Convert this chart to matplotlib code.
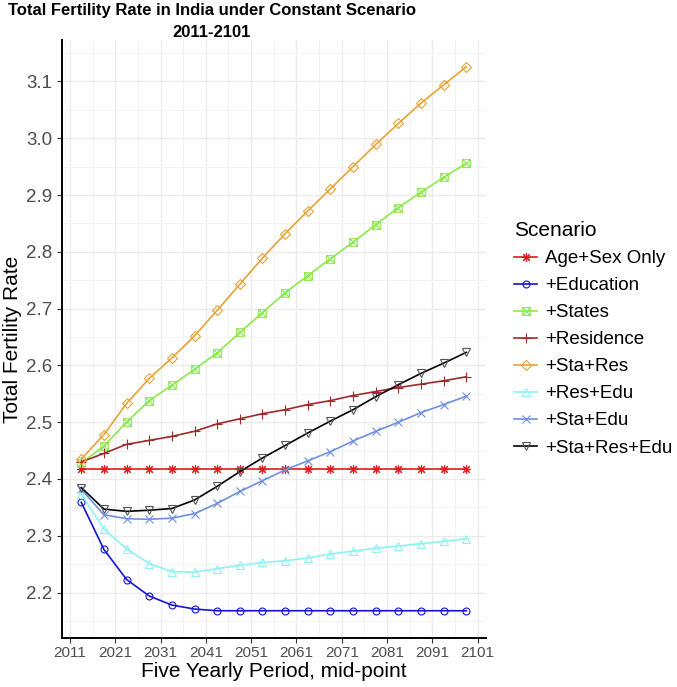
import numpy as np
import matplotlib
matplotlib.use("Agg")
import matplotlib.pyplot as plt
from matplotlib.path import Path

plt.rcParams['font.family'] = ['Liberation Sans', 'DejaVu Sans']

# five-yearly period mid-points
years = [2013.5, 2018.5, 2023.5, 2028.5, 2033.5, 2038.5, 2043.5, 2048.5, 2053.5,
         2058.5, 2063.5, 2068.5, 2073.5, 2078.5, 2083.5, 2088.5, 2093.5, 2098.5]

age_sex   = [2.417] * 18
education = [2.359, 2.276, 2.223, 2.194, 2.178, 2.171, 2.168, 2.168, 2.168,
             2.168, 2.168, 2.168, 2.168, 2.168, 2.168, 2.168, 2.168, 2.168]
states    = [2.428, 2.458, 2.500, 2.538, 2.565, 2.593, 2.622, 2.658, 2.693,
             2.728, 2.758, 2.788, 2.817, 2.848, 2.878, 2.905, 2.931, 2.956]
residence = [2.430, 2.445, 2.461, 2.468, 2.475, 2.484, 2.497, 2.506, 2.515,
             2.522, 2.531, 2.538, 2.547, 2.554, 2.561, 2.567, 2.573, 2.580]
sta_res   = [2.435, 2.478, 2.533, 2.577, 2.613, 2.652, 2.697, 2.743, 2.789,
             2.832, 2.872, 2.911, 2.950, 2.989, 3.026, 3.062, 3.094, 3.126]
res_edu   = [2.373, 2.312, 2.277, 2.251, 2.237, 2.236, 2.242, 2.248, 2.253,
             2.256, 2.261, 2.268, 2.273, 2.278, 2.282, 2.286, 2.290, 2.295]
sta_edu   = [2.382, 2.337, 2.330, 2.329, 2.331, 2.339, 2.357, 2.378, 2.397,
             2.416, 2.432, 2.448, 2.467, 2.484, 2.500, 2.517, 2.531, 2.546]
sta_res_edu = [2.385, 2.347, 2.343, 2.345, 2.348, 2.363, 2.387, 2.413, 2.437,
               2.459, 2.481, 2.502, 2.522, 2.545, 2.566, 2.586, 2.604, 2.623]

labels = ['Age+Sex Only', '+Education', '+States', '+Residence',
          '+Sta+Res', '+Res+Edu', '+Sta+Edu', '+Sta+Res+Edu']
series = [age_sex, education, states, residence, sta_res, res_edu, sta_edu, sta_res_edu]
colors = ['#e01b1b', '#1414d2', '#8de84e', '#9e2a2a', '#e9a235', '#8ef2f2', '#6f8fe0', '#000000']

# boxed x marker (ggplot shape 7)
boxx = Path([(-1, -1), (1, -1), (1, 1), (-1, 1), (-1, -1), (-1, -1), (1, 1), (-1, 1), (1, -1)],
            [Path.MOVETO, Path.LINETO, Path.LINETO, Path.LINETO, Path.CLOSEPOLY,
             Path.MOVETO, Path.LINETO, Path.MOVETO, Path.LINETO])
markers = [(8, 2, 0), 'o', boxx, '+', 'D', '^', 'x', 'v']
msizes  = [6.5, 5, 5.5, 7, 5, 6, 6, 6]

fig = plt.figure(figsize=(6.77, 6.87), dpi=100)
ax = fig.add_axes([62/677, 1-638/687, (485.6-62)/677, (638-40)/687])

for y, lab, c, m, ms in zip(series, labels, colors, markers, msizes):
    mec = '#555555' if c == '#000000' else c
    ax.plot(years, y, color=c, lw=1.2, marker=m, ms=ms, mfc='none', mec=mec,
            mew=0.8, label=lab)

ax.set_xlim(2009.25, 2102.75)
ax.set_ylim(2.12, 3.173)
ax.set_xticks(np.arange(2011, 2102, 10))
ax.set_xticks(np.arange(2016, 2100, 10), minor=True)
ax.set_yticks(np.arange(2.2, 3.15, 0.1))
ax.set_yticks(np.arange(2.15, 3.2, 0.1), minor=True)
ax.set_yticklabels(['%.1f' % v for v in np.arange(2.2, 3.15, 0.1)])
ax.grid(which='major', color='#ebebeb', lw=1.0)
ax.grid(which='minor', color='#f3f3f3', lw=0.7)
ax.set_axisbelow(True)
for s in ['top', 'right']:
    ax.spines[s].set_visible(False)
for s in ['left', 'bottom']:
    ax.spines[s].set_linewidth(1.4)
    ax.spines[s].set_color('black')
ax.tick_params(which='major', length=3.5, width=0.8, color='#333333', colors='#4d4d4d')
ax.tick_params(axis='y', labelsize=13.5)
ax.tick_params(axis='x', labelsize=11, pad=2)
ax.tick_params(which='minor', length=0)

ax.set_xlabel('Five Yearly Period, mid-point', fontsize=15, labelpad=2)
ax.set_ylabel('Total Fertility Rate', fontsize=15, labelpad=3)

fig.text(212/677, 1-3/687, 'Total Fertility Rate in India under Constant Scenario\n2011-2101',
         ha='center', va='top', fontsize=12, fontweight='bold', linespacing=1.6)

leg = ax.legend(loc='upper left', bbox_to_anchor=(514/677, 1-221/687),
                bbox_transform=fig.transFigure, frameon=False, title='Scenario',
                fontsize=13.5, title_fontsize=15, handlelength=1.25,
                handletextpad=0.4, labelspacing=0.53, borderaxespad=0, borderpad=0)
leg._legend_box.align = 'left'

fig.savefig('out.png', dpi=100)
